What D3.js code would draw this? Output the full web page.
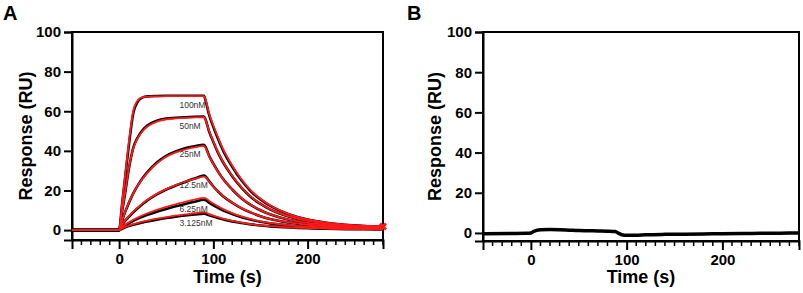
<!DOCTYPE html>
<html>
<head>
<meta charset="utf-8">
<script src="https://cdn.jsdelivr.net/npm/d3@7"></script>
<style>
  body { margin: 0; background: #fff; }
  svg { font-family: "Liberation Sans", Arial, sans-serif; }
</style>
</head>
<body>
<div id="chart"></div>
<script>
// Sampling times (s) for the sensorgrams in panel A
const timesA = [-50, 0, 3, 6, 10, 15, 20, 25, 30, 40, 50, 60, 70, 80, 90, 92, 95, 100, 105, 110, 120, 130, 140, 150, 160, 180, 200, 220, 240, 260, 280]

// Concentration labels, top curve first
const concLabels = ["100nM", "50nM", "25nM", "12.5nM", "6.25nM", "3.125nM"]

// Measured responses (black)
const measured100 = [0, 0, 12.5, 25, 41.5, 59, 65, 67, 67.5, 67.7, 67.8, 67.8, 67.8, 67.8, 67.8, 65, 59, 52, 46, 40.5, 32, 25, 19.5, 15.5, 12.3, 8, 5.3, 3.7, 2.7, 2.1, 1.7]
const measured50 = [0, 0, 9, 17.5, 30, 41.5, 47, 50.5, 52.8, 55.2, 56.3, 56.7, 57, 57.2, 57.3, 55.5, 50.5, 44.5, 39, 34.5, 27.2, 21.3, 16.6, 13.2, 10.5, 6.8, 4.5, 3.2, 2.3, 1.8, 1.5]
const measured25 = [0, 0, 4.5, 8.7, 13.3, 18.5, 22.7, 26.3, 29.3, 34.1, 37.5, 39.7, 41.3, 42.3, 43, 41.8, 38, 33.5, 29.5, 26, 20.5, 16, 12.6, 10, 8, 5.2, 3.5, 2.5, 1.8, 1.4, 1.2]
const measured12 = [0, 0, 2.5, 4.5, 6.5, 9, 11.2, 13.2, 15, 18, 20.5, 22.5, 24.3, 26, 27.5, 27, 25, 22, 19.5, 17.2, 13.8, 11, 8.8, 7, 5.6, 3.8, 2.6, 1.9, 1.4, 1.1, 0.9]
const measured6 = [0, 0, 1.2, 2.3, 3.4, 4.7, 5.8, 6.8, 7.7, 9.3, 10.7, 12, 13.2, 14.3, 15.3, 15, 14, 12.5, 11.2, 10, 8.1, 6.5, 5.2, 4.2, 3.4, 2.3, 1.6, 1.2, 0.9, 0.7, 0.6]
const measured3 = [0, 0, 0.7, 1.3, 2, 2.7, 3.3, 3.9, 4.4, 5.3, 6.1, 6.8, 7.4, 7.9, 8.3, 8.1, 7.6, 6.8, 6.1, 5.5, 4.4, 3.6, 2.9, 2.3, 1.9, 1.3, 0.9, 0.7, 0.5, 0.4, 0.3]

// Fitted responses (red)
const fit100 = [0, 0, 13, 26, 43, 60, 65.6, 67.1, 67.4, 67.5, 67.6, 67.6, 67.6, 67.6, 67.6, 65.5, 59.8, 52.8, 46.8, 41.2, 32.6, 25.5, 19.9, 15.8, 12.5, 8.1, 5.4, 3.8, 2.8, 2.2, 1.8]
const fit50 = [0, 0, 9.2, 17.8, 30.3, 41.2, 46.6, 50, 52.3, 54.8, 55.9, 56.4, 56.7, 56.9, 57, 55.3, 50.8, 44.8, 39.3, 34.7, 27.4, 21.5, 16.8, 13.3, 10.6, 6.9, 4.6, 3.3, 2.4, 1.9, 1.6]
const fit25 = [0, 0, 4.6, 8.8, 13.5, 18.6, 22.6, 26, 28.9, 33.6, 37, 39.2, 40.8, 41.8, 42.5, 41.4, 37.8, 33.4, 29.4, 26, 20.6, 16.1, 12.7, 10.1, 8.1, 5.3, 3.6, 2.6, 1.9, 1.5, 1.3]
const fit12 = [0, 0, 2.6, 4.7, 6.8, 9.3, 11.5, 13.5, 15.3, 18.3, 20.7, 22.7, 24.4, 25.8, 27, 26.6, 24.8, 22, 19.5, 17.3, 13.9, 11.1, 8.9, 7.1, 5.7, 3.9, 2.7, 2, 1.5, 1.2, 1]
const fit6 = [0, 0, 1.4, 2.6, 3.8, 5.2, 6.4, 7.5, 8.5, 10.2, 11.7, 13, 14.3, 15.4, 16.3, 16, 15, 13.4, 12, 10.7, 8.6, 6.9, 5.5, 4.4, 3.6, 2.4, 1.7, 1.3, 1, 0.8, 0.7]
const fit3 = [0, 0, 0.8, 1.5, 2.2, 3, 3.7, 4.3, 4.8, 5.8, 6.6, 7.3, 7.9, 8.5, 9, 8.8, 8.2, 7.3, 6.5, 5.8, 4.7, 3.8, 3, 2.4, 2, 1.4, 1, 0.7, 0.5, 0.4, 0.3]

// Panel B: control sensorgram
const timesB = [-50, -20, -5, 0, 3, 6, 10, 20, 30, 40, 50, 60, 70, 80, 88, 92, 95, 100, 110, 120, 140, 160, 180, 200, 220, 240, 260, 280]
const controlB = [-0.4, -0.3, -0.2, 0, 0.8, 1.3, 1.6, 1.7, 1.6, 1.4, 1.2, 1.1, 1.0, 0.9, 0.7, -0.2, -0.9, -1.2, -1.1, -0.9, -0.7, -0.6, -0.5, -0.4, -0.3, -0.2, -0.1, 0]

const yTicks = [0, 20, 40, 60, 80, 100]
const xMajorTicks = [0, 100, 200]
const xMinorTicks = d3.range(-40, 281, 10).filter(d => d % 100 !== 0)

const measuredA = [measured100, measured50, measured25, measured12, measured6, measured3]
const fitA = [fit100, fit50, fit25, fit12, fit6, fit3]

const svg = d3.select("#chart")
  .append("svg")
  .attr("width", 803)
  .attr("height", 293)

// Draw one panel frame (axes + box + titles), return scales
const drawPanel = (opts) => {
  let x = d3.scaleLinear().domain([-50, 280]).range([opts.left, opts.right])
  let y = d3.scaleLinear().domain(opts.yDomain).range([opts.bottom, opts.top])

  let g = svg.append("g")

  // box
  g.append("rect")
    .attr("x", opts.left)
    .attr("y", opts.top)
    .attr("width", opts.right - opts.left)
    .attr("height", opts.bottom - opts.top)
    .attr("fill", "none")
    .attr("stroke", "#000")
    .attr("stroke-width", 2)

  let yAxis = g.append("g")
    .attr("transform", "translate(" + opts.left + ",0)")
    .call(d3.axisLeft(y).tickValues(yTicks).tickSize(8).tickPadding(3))
  yAxis.select(".domain").attr("stroke-width", 2)
  yAxis.selectAll(".tick line").attr("stroke-width", 2)
  yAxis.selectAll("text")
    .attr("font-size", 15)
    .attr("font-weight", "bold")
    .attr("fill", "#000")
    .attr("font-family", "Liberation Sans, Arial, sans-serif")

  let xAxis = g.append("g")
    .attr("transform", "translate(0," + opts.bottom + ")")
    .call(d3.axisBottom(x).tickValues(xMajorTicks).tickSize(9).tickPadding(4))
  xAxis.select(".domain").attr("stroke-width", 2)
  xAxis.selectAll(".tick line").attr("stroke-width", 2)
  xAxis.selectAll("text")
    .attr("font-size", 15)
    .attr("font-weight", "bold")
    .attr("fill", "#000")
    .attr("font-family", "Liberation Sans, Arial, sans-serif")

  // minor ticks every 10 s
  g.selectAll(".minor")
    .data(xMinorTicks)
    .enter().append("line")
    .attr("x1", d => x(d)).attr("x2", d => x(d))
    .attr("y1", opts.bottom).attr("y2", opts.bottom + 5)
    .attr("stroke", "#000")
    .attr("stroke-width", 1.5)

  g.append("text")
    .attr("x", (opts.left + opts.right) / 2)
    .attr("y", 283)
    .attr("text-anchor", "middle")
    .attr("font-size", 18)
    .attr("font-weight", "bold")
    .text("Time (s)")

  g.append("text")
    .attr("transform", "translate(" + opts.yTitleX + "," + ((opts.top + opts.bottom) / 2) + ") rotate(-90)")
    .attr("text-anchor", "middle")
    .attr("font-size", 18)
    .attr("font-weight", "bold")
    .text("Response (RU)")

  svg.append("text")
    .attr("x", opts.letterX)
    .attr("y", 20)
    .attr("font-size", 20)
    .attr("font-weight", "bold")
    .text(opts.letter)

  return {x: x, y: y}
}

// Panel A
let a = drawPanel({left: 72, right: 383, top: 32, bottom: 240, yDomain: [-5, 100], yTitleX: 32, letter: "A", letterX: 3})

let lineA = d3.line()
  .x((d, i) => a.x(timesA[i]))
  .y(d => a.y(d))
  .curve(d3.curveMonotoneX)

svg.append("g").selectAll("path")
  .data(measuredA)
  .enter().append("path")
  .attr("d", lineA)
  .attr("fill", "none")
  .attr("stroke", "#000")
  .attr("stroke-width", 2.6)

svg.append("g").selectAll("path")
  .data(fitA)
  .enter().append("path")
  .attr("d", lineA)
  .attr("fill", "none")
  .attr("stroke", "#ff1a1a")
  .attr("stroke-width", 1.8)

// end marker on the fits
svg.append("path")
  .attr("d", d3.symbol().type(d3.symbolCross).size(40))
  .attr("transform", "translate(" + a.x(timesA[timesA.length - 1]) + "," + a.y(fit100[fit100.length - 1]) + ") rotate(45)")
  .attr("fill", "#ff1a1a")

// concentration labels under each curve's peak
svg.append("g").selectAll("text")
  .data(concLabels)
  .enter().append("text")
  .attr("x", a.x(64))
  .attr("y", (d, i) => a.y(measuredA[i][timesA.indexOf(90)]) + 12)
  .attr("font-size", 8.5)
  .attr("fill", "#333")
  .text(d => d)

// Panel B
let b = drawPanel({left: 483, right: 799, top: 32, bottom: 241, yDomain: [-4, 100], yTitleX: 441, letter: "B", letterX: 407})

let lineB = d3.line()
  .x((d, i) => b.x(timesB[i]))
  .y(d => b.y(d))
  .curve(d3.curveMonotoneX)

svg.append("path")
  .datum(controlB)
  .attr("d", lineB)
  .attr("fill", "none")
  .attr("stroke", "#000")
  .attr("stroke-width", 3.5)
</script>
</body>
</html>
